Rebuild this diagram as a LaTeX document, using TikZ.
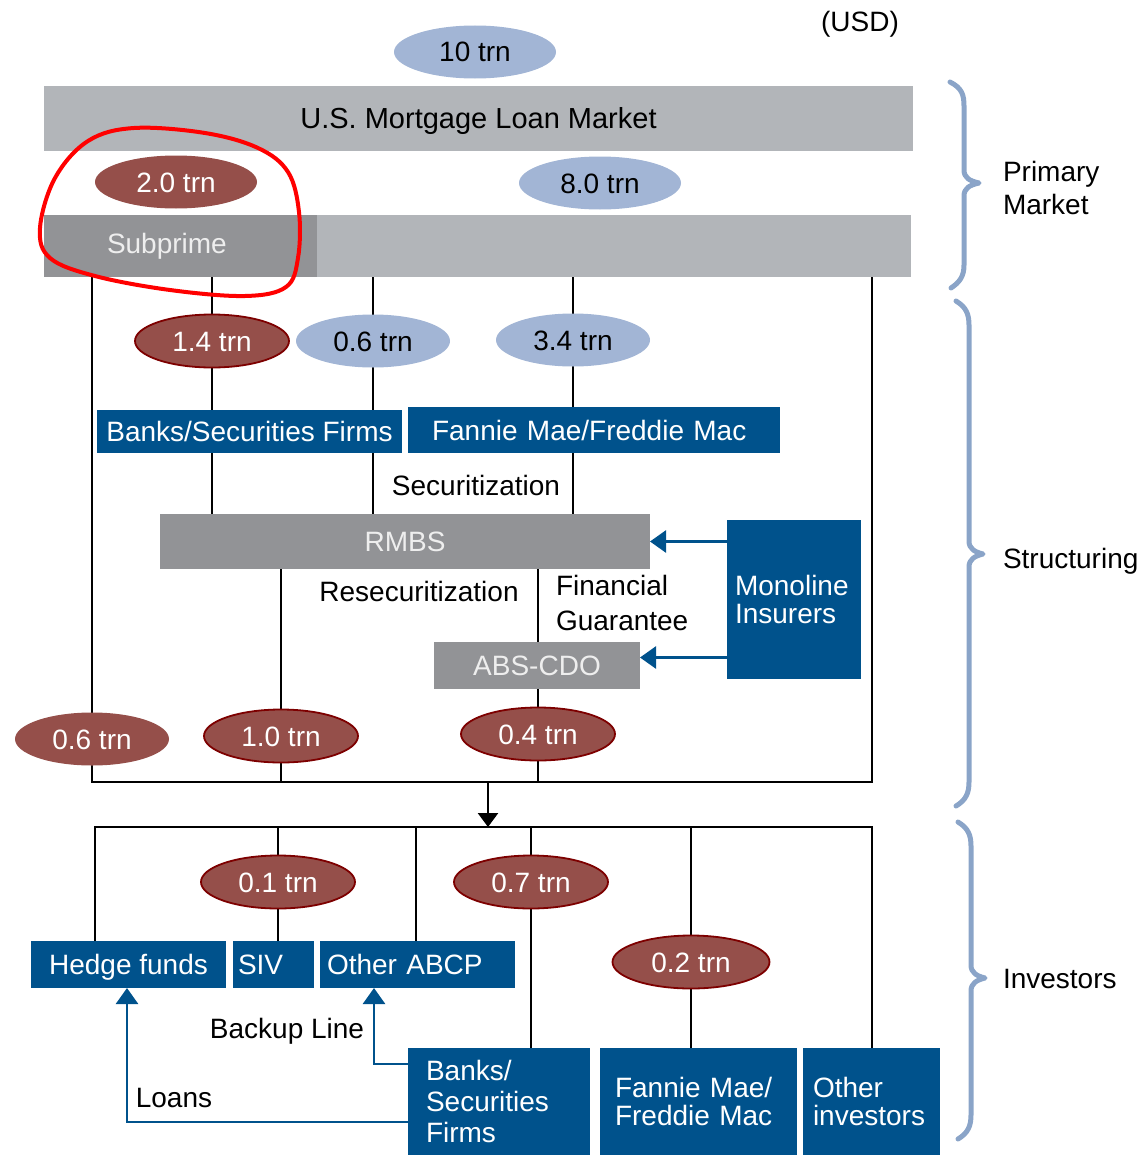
\documentclass[tikz,border=0pt]{standalone}
\usepackage{fontspec}
\setmainfont{Liberation Sans}
\usetikzlibrary{arrows.meta,shapes.geometric}
\pgfdeclarelayer{background}
\pgfsetlayers{background,main}
\definecolor{gbar}{HTML}{B2B5B9}
\definecolor{gdark}{HTML}{929396}
\definecolor{gtext}{HTML}{EEEEEE}
\definecolor{dred}{HTML}{954F4A}
\definecolor{dredb}{HTML}{7D0000}
\definecolor{lblue}{HTML}{A2B5D5}
\definecolor{nblue}{HTML}{00528C}
\definecolor{brc}{HTML}{8AA4C8}
\begin{document}
\begin{tikzpicture}[x=1pt,y=-1pt,
  every node/.style={inner sep=0pt,outer sep=0pt,font=\fontsize{28}{32}\selectfont},
  one/.style={text height=25pt,text depth=5pt},
  redell/.style={ellipse,one,fill=dred,draw=dredb,line width=1.8pt,text=white,minimum width=154pt,minimum height=53pt},
  redelln/.style={redell,draw=none},
  blueell/.style={ellipse,one,fill=lblue,text=black,minimum width=158pt,minimum height=53pt},
  greybox/.style={rectangle,fill=gbar},
  darkbox/.style={rectangle,fill=gdark,text=gtext},
  navybox/.style={rectangle,fill=nblue,text=white},
  conn/.style={line width=2.6pt,black},
  barrow/.style={line width=2.6pt,nblue,-{Triangle[length=16pt,width=22pt]}},
  karrow/.style={conn,-{Triangle[length=14pt,width=20pt]}},
  brace/.style={brc,line width=5pt,line cap=round,line join=round},
  lbl/.style={one,text=black}
]
\useasboundingbox (0,0) rectangle (1144,1156);

% ---- primary market
\node[lbl] (usd) at (860,22) {(USD)};
\node[blueell,minimum width=162pt] (e10) at (475,52) {10 trn};
\node[greybox,one,minimum width=869pt,minimum height=65pt,font=\fontsize{29}{32}\selectfont] (mkt) at (478.5,118.5) {U.S. Mortgage Loan Market};
\node[redelln,minimum width=162pt] (e20) at (176,182) {2.0 trn};
\node[blueell,minimum width=162pt] (e80) at (600,183) {8.0 trn};
\node[darkbox,minimum height=62pt,text width=147pt,inner xsep=63pt,align=left] (sub) at (180.5,246) {Subprime};
\node[greybox,minimum width=594pt,minimum height=62pt] (light) at (614,246) {};

% ---- structuring
\node[redell] (e14) at (212,341) {1.4 trn};
\node[blueell,minimum width=154pt] (e06) at (373,341) {0.6 trn};
\node[blueell,minimum width=154pt] (e34) at (573,340) {3.4 trn};
\node[navybox,one,minimum width=305pt,minimum height=43pt] (bsf) at (249.5,431.5) {Banks/Securities Firms};
\node[navybox,text width=324pt,inner xsep=24pt,align=left,minimum height=46pt] (fm) at (594,430) {Fannie Mae/Freddie Mac};
\node[lbl] (sec) at (476,485) {Securitization};
\node[darkbox,one,minimum width=490pt,minimum height=55pt] (rmbs) at (405,541.5) {RMBS};
\node[lbl] (resec) at (419,591) {Resecuritization};
\node[anchor=west,align=left,font=\fontsize{28}{35}\selectfont] (fg) at (556,603) {Financial\\Guarantee};
\node[darkbox,one,minimum width=206pt,minimum height=47pt] (abs) at (537,665.5) {ABS-CDO};
\node[navybox,text width=118pt,inner xsep=8pt,align=left,minimum height=159pt,font=\fontsize{28}{28}\selectfont] (mono) at (794,599.5) {Monoline\\Insurers};
\node[redelln] (e06b) at (92,739) {0.6 trn};
\node[redell] (e10b) at (281,736) {1.0 trn};
\node[redell] (e04) at (538,734) {0.4 trn};

% ---- investors
\node[redell] (e01) at (278,882) {0.1 trn};
\node[redell] (e07) at (531,882) {0.7 trn};
\node[redell,minimum width=157pt] (e02) at (691,962) {0.2 trn};
\node[navybox,one,minimum width=195pt,minimum height=47pt] (hf) at (128.5,964.5) {Hedge funds};
\node[navybox,text width=71pt,inner xsep=5pt,align=left,minimum height=47pt] (siv) at (273.5,964.5) {SIV};
\node[navybox,text width=181pt,inner xsep=7pt,align=left,minimum height=47pt] (abcp) at (417.5,964.5) {Other ABCP};
\node[navybox,text width=146pt,inner xsep=18pt,align=left,minimum height=107pt,font=\fontsize{28}{31}\selectfont] (bsf2) at (499,1101.5) {Banks/\\Securities\\Firms};
\node[navybox,text width=167pt,inner xsep=15pt,align=left,minimum height=107pt,font=\fontsize{28}{28}\selectfont] (fm2) at (698.5,1101.5) {Fannie Mae/\\Freddie Mac};
\node[navybox,text width=117pt,inner xsep=10pt,align=left,minimum height=107pt,font=\fontsize{28}{28}\selectfont] (oi) at (871.5,1101.5) {Other\\investors};
\node[lbl] (bl) at (287,1028) {Backup Line};
\node[lbl] (lo) at (174,1097) {Loans};

% ---- side labels
\node[anchor=west,align=left,font=\fontsize{28}{33}\selectfont] (pm) at (1003,188) {Primary\\Market};
\node[lbl,anchor=west] (st) at (1003,558) {Structuring};
\node[lbl,anchor=west] (inv) at (1003,978) {Investors};

% ---- connectors
\begin{pgfonlayer}{background}
\coordinate (sL) at (92,782);
\coordinate (sR) at (872,782);
\draw[conn] (sub.south -| sL) -- (sL) -- (sR) -- (light.south -| sR);
\draw[conn] (sub.south -| e14) -- (rmbs.north -| e14);
\draw[conn] (light.south -| e06) -- (rmbs.north -| e06);
\draw[conn] (light.south -| e34) -- (rmbs.north -| e34);
\draw[conn] (rmbs.south -| e10b) -- (sL -| e10b);
\draw[conn] (rmbs.south -| e04) -- (abs.north -| e04);
\draw[conn] (abs.south -| e04) -- (sL -| e04);
\coordinate (iL) at (95,827);
\coordinate (iR) at (872,827);
\coordinate (c416) at (416,827);
\draw[conn] (hf.north -| iL) -- (iL) -- (iR) -- (oi.north -| iR);
\draw[conn] (iL -| e01) -- (siv.north -| e01);
\draw[conn] (c416) -- (abcp.north -| c416);
\draw[conn] (iL -| e07) -- (bsf2.north -| e07);
\draw[conn] (iL -| e02) -- (fm2.north -| e02);
\end{pgfonlayer}

\coordinate (mid) at (488,782);
\coordinate (itop) at (488,827);
\draw[karrow] (mid) -- (itop);

\draw[barrow] (mono.west |- rmbs.east) -- (rmbs.east);
\coordinate (absin) at ([yshift=8pt]abs.east);
\draw[barrow] (mono.west |- absin) -- (absin);
\coordinate (lc) at (127,1122);
\coordinate (bc) at (374,1064);
\draw[barrow] (bsf2.west |- lc) -- (lc) -- (hf.south -| lc);
\draw[barrow] (bsf2.west |- bc) -- (bc) -- (abcp.south -| bc);

% ---- braces
\draw[brace] (950,82) .. controls (962,88) and (964,95) .. (964,106) -- (964,170) .. controls (964,178) and (970,181) .. (979,183) .. controls (970,185) and (964,188) .. (964,196) -- (964,265) .. controls (964,276) and (960,282) .. (951,288);
\draw[brace] (956,301) .. controls (966,307) and (969,314) .. (969,325) -- (969,541) .. controls (969,549) and (975,552) .. (983,554) .. controls (975,556) and (969,559) .. (969,567) -- (969,782) .. controls (969,793) and (966,800) .. (956,806);
\draw[brace] (958,822) .. controls (968,828) and (971,835) .. (971,846) -- (971,965) .. controls (971,973) and (977,976) .. (985,978) .. controls (977,980) and (971,983) .. (971,991) -- (971,1115) .. controls (971,1126) and (968,1133) .. (958,1139);

% ---- red hand-drawn highlight
\draw[red,line width=4pt] plot[smooth cycle,tension=0.6] coordinates {(134,128) (205,133) (258,148) (288,172) (299,212) (298,258) (286,287) (245,296) (170,290) (95,276) (50,258) (40,228) (55,178) (88,141)};
\end{tikzpicture}
\end{document}
